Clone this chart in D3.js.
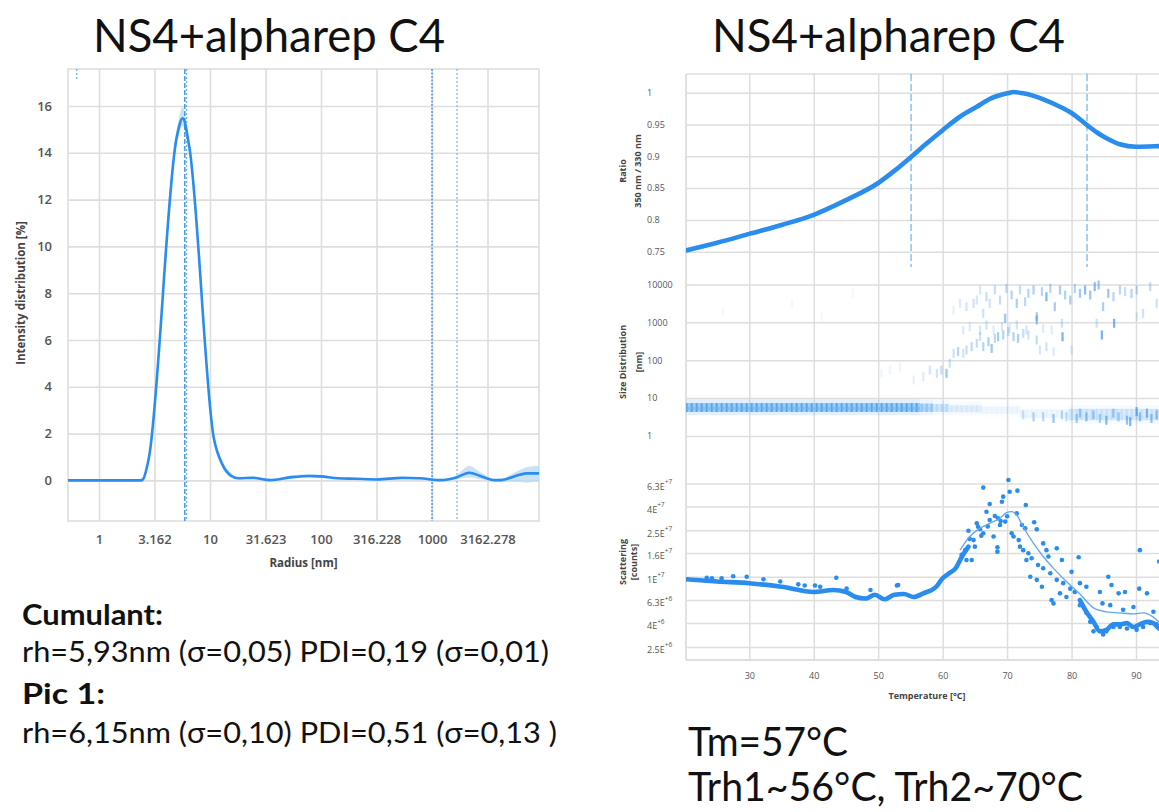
<!DOCTYPE html>
<html><head><meta charset="utf-8">
<script src="https://cdn.jsdelivr.net/npm/d3@7"></script>
<style>body{margin:0;background:#fff}svg{display:block}</style>
</head><body>
<svg id="c" width="1159" height="812"></svg>
<script>
// ================= DATA =================
const titleText = "NS4+alpharep C4";
// Left: DLS intensity distribution
const dlsRadius    = [0.5, 1, 2, 2.37, 2.49, 2.81, 5.01, 5.67, 6.52, 10.8, 12.9, 15.6, 18.0, 24.3, 35, 54.6, 78.9, 98.6, 142, 207, 320, 536, 780, 1210, 1630, 2165, 2720, 3660, 4230, 5650, 7110, 8700, 9300];
const dlsIntensity = [0, 0, 0, 0, 0.05, 0.95, 14.66, 15.47, 14.23, 1.83, 0.69, 0.19, 0.09, 0.11, 0.01, 0.14, 0.19, 0.17, 0.09, 0.07, 0.04, 0.11, 0.09, 0.01, 0.11, 0.33, 0.19, 0.01, 0.01, 0.19, 0.30, 0.30, 0.30];
const dlsBandHigh  = [0, 0, 0, 0, 0.08, 1.05, 15.0, 15.95, 14.45, 2.0, 0.85, 0.30, 0.14, 0.16, 0.06, 0.22, 0.26, 0.24, 0.14, 0.11, 0.08, 0.15, 0.13, 0.06, 0.20, 0.62, 0.36, 0.06, 0.08, 0.36, 0.56, 0.62, 0.62];
const dlsBandLow   = [0, 0, 0, 0, 0.02, 0.85, 14.3, 15.15, 14.0, 1.65, 0.55, 0.10, 0.04, 0.06, -0.03, 0.07, 0.12, 0.10, 0.04, 0.03, 0.0, 0.06, 0.04, -0.04, 0.04, 0.12, 0.05, -0.04, -0.05, -0.05, -0.10, -0.05, -0.05];
const dlsXTicks = [1, 3.162, 10, 31.623, 100, 316.228, 1000, 3162.278];
const dlsXTickLabels = ["1", "3.162", "10", "31.623", "100", "316.228", "1000", "3162.278"];
const dlsYTicks = [0, 2, 4, 6, 8, 10, 12, 14, 16];
const dlsMarkerRadii = [5.93, 6.15, 1000, 1680];
const dlsShortMarker = 0.63;
const dlsXTitle = "Radius [nm]";
const dlsYTitle = "Intensity distribution [%]";
const cumulantLines = ["Cumulant:", "rh=5,93nm (σ=0,05) PDI=0,19 (σ=0,01)", "Pic 1:", "rh=6,15nm (σ=0,10) PDI=0,51 (σ=0,13 )"];

// Right: ratio 350/330
const ratioT = [20.2, 25, 30, 35, 40, 45, 50, 52.5, 55.1, 57.5, 60, 62.5, 65.3, 67.5, 70, 71, 72.5, 74.1, 76, 78.2, 80, 82.4, 84, 85.5, 87.5, 90, 93.6, 96];
const ratioV = [0.752, 0.764, 0.778, 0.792, 0.808, 0.831, 0.858, 0.877, 0.899, 0.920, 0.941, 0.961, 0.978, 0.991, 0.999, 1.001, 0.999, 0.995, 0.988, 0.978, 0.968, 0.949, 0.937, 0.928, 0.919, 0.915, 0.916, 0.917];
const ratioTicks = [0.75, 0.8, 0.85, 0.9, 0.95, 1];
const ratioTickLabels = ["0.75", "0.8", "0.85", "0.9", "0.95", "1"];
const transitionT = [55.1, 82.4];

// Size distribution: monomer band segments
const monoT0   = [20.2, 56.5, 58.5, 61, 66, 72, 79.5];
const monoT1   = [56.5, 58.5, 61, 66, 72, 79.5, 96];
const monoLow  = [4.3, 4.3, 4.3, 4.2, 3.8, 3.0, 2.6];
const monoHigh = [7.4, 7.2, 7.0, 6.5, 6.0, 5.0, 5.2];
const monoLevel = [0.75, 0.5, 0.3, 0.18, 0.09, 0.1, 0.25];
// Size distribution: individual size readings [T, size nm, intensity]
const aggT = [25.9, 36.6, 41.2, 46.1,
  50.5, 51.8, 53.4, 55.5, 57.0, 58.0, 59.1, 59.8, 60.6, 61.1, 61.7, 62.4, 63.2, 63.7, 64.5, 65.3, 65.8, 66.3, 67.1, 67.6, 68.1, 68.6, 69.4, 70.2, 71.0, 71.7, 72.5, 73.3, 74.6, 75.1, 76.1, 77.2, 78.6, 80.0, 84.7, 86.6,
  61.7, 62.7, 63.7, 64.8, 65.3, 65.8, 66.3, 66.8, 67.3, 68.1, 68.9, 69.7, 69.9, 70.7, 71.5, 72.0, 72.8, 73.3, 74.1, 74.6, 75.4, 76.1, 76.7, 77.4, 78.2, 79.0, 79.8, 80.5, 81.3, 82.1, 82.9, 83.6, 84.2, 84.9, 85.7, 86.5, 87.5, 88.3, 89.3, 90.1, 91.1, 92.2, 93.2,
  63.2, 64.2, 65.8, 66.8, 67.9, 69.2, 70.4, 71.5, 73.0, 74.6, 75.6, 76.9, 78.5, 83.9, 90.1,
  72.5, 74.1, 75.6, 77.2, 78.5, 79.2, 80.8, 81.3, 82.3, 83.4, 84.4, 85.4, 86.5, 87.3, 88.6, 89.1, 90.1, 90.6, 91.7, 92.4, 93.2];
const aggSize = [1900, 3170, 1400, 5800,
  45, 55, 67, 30, 37, 55, 45, 55, 45, 83, 152, 168, 152, 186, 227, 279, 417, 227, 308, 205, 377, 417, 462, 567, 417, 377, 513, 462, 341, 186, 227, 168, 417, 186, 462, 942,
  2110, 3170, 2580, 3170, 3870, 7110, 1730, 4740, 3170, 7110, 3870, 1280, 7860, 5250, 3170, 7110, 3500, 5820, 7110, 1410, 6430, 4740, 7860, 2580, 7110, 5250, 3870, 7860, 5820, 7110, 5250, 8690, 9640, 2580, 5820, 4740, 7110, 6430, 5820, 7110, 1730, 8690, 3170,
  627, 766, 627, 850, 627, 766, 693, 850, 627, 1150, 693, 627, 942, 942, 1410,
  3.6, 3.2, 3.2, 2.9, 3.6, 3.2, 2.9, 4.0, 3.2, 3.6, 2.9, 2.6, 4.0, 3.2, 2.6, 2.4, 4.4, 3.2, 4.0, 2.9, 3.6];
const aggLevel = [0.08, 0.08, 0.08, 0.08,
  0.1, 0.1, 0.1, 0.15, 0.2, 0.25, 0.3, 0.35, 0.6, 0.3, 0.3, 0.45, 0.3, 0.35, 0.4, 0.35, 0.3, 0.45, 0.5, 0.6, 0.4, 0.55, 0.45, 0.35, 0.45, 0.5, 0.35, 0.3, 0.35, 0.25, 0.3, 0.2, 0.8, 0.2, 0.8, 0.8,
  0.15, 0.2, 0.25, 0.3, 0.25, 0.25, 0.3, 0.35, 0.3, 0.35, 0.35, 0.6, 0.4, 0.45, 0.5, 0.35, 0.4, 0.45, 0.5, 0.55, 0.45, 0.75, 0.45, 0.55, 0.5, 0.45, 0.5, 0.45, 0.55, 0.7, 0.6, 0.7, 0.6, 0.5, 0.6, 0.45, 0.4, 0.35, 0.45, 0.4, 0.3, 0.35, 0.3,
  0.2, 0.2, 0.25, 0.3, 0.2, 0.25, 0.2, 0.3, 0.25, 0.6, 0.2, 0.2, 0.3, 0.3, 0.2,
  0.3, 0.45, 0.4, 0.6, 0.4, 0.35, 0.5, 0.55, 0.6, 0.55, 0.45, 0.7, 0.55, 0.5, 0.6, 0.75, 0.8, 0.6, 0.7, 0.6, 0.6];
const sizeTicks = [1, 10, 100, 1000, 10000];

// Scattering (counts, in millions)
const scatBandAT = [20.2, 25, 30, 35, 40, 43, 45, 46.5, 48, 49.5, 51, 52.5, 54, 55.5, 57, 59, 60, 61, 62, 63, 64];
const scatBandAV = [9.5, 9.1, 8.8, 8.2, 7.4, 7.7, 7.4, 6.7, 6.5, 7.0, 6.4, 7.0, 7.1, 6.7, 7.2, 8.2, 9.7, 10.7, 11.8, 14.9, 18.1];
const scatBandBT = [81.3, 82.3, 83.4, 84.4, 85.4, 86.5, 87.5, 88.6, 89.6, 90.6, 91.7, 92.7, 93.6, 96];
const scatBandBV = [6.3, 5.0, 4.1, 3.4, 3.5, 3.9, 3.9, 4.0, 3.7, 3.9, 4.1, 4.0, 3.6, 3.6];
const scatSmoothT = [62.7, 64.2, 65.8, 67.3, 68.9, 69.9, 70.7, 71.5, 72.5, 74.1, 75.6, 77.2, 79.2, 81.3, 83.4, 85.4, 87.5, 89.6, 91.1, 92.7, 93.6, 96];
const scatSmoothV = [16.9, 22.1, 26.0, 28.7, 31.7, 35.4, 36.1, 33.8, 26.8, 19.3, 14.9, 11.8, 9.1, 7.1, 5.4, 5.0, 4.9, 4.8, 4.9, 4.5, 4.1, 4.0];
const scatDotT = [23.4, 24.2, 25.7, 27.5, 29.6, 32.2, 34.8, 37.6, 38.6, 40.2, 41.0, 43.5, 45.1, 48.8, 52.9, 53.1,
  66.3, 70.2, 69.4, 70.4, 71.6, 67.3, 69.2, 72.9, 66.8, 68.1, 68.6, 69.7, 71.5, 64.0, 65.3, 65.5, 65.8, 64.8, 66.3, 67.9, 68.5, 64.2, 72.3, 72.8, 74.2, 74.6, 75.6, 76.1, 77.7, 76.4, 78.5, 80.0, 81.1, 81.3, 82.3, 85.7, 86.2, 87.3, 88.3, 90.6, 90.5, 91.7, 84.4, 84.8, 86.0, 89.6, 88.0, 92.7, 93.6,
  68.5, 64.5, 62.95, 73.0, 73.6, 74.6, 75.4, 76.9, 77.2, 78.2, 79.2, 81.3, 82.3, 82.9, 83.4, 83.9, 84.9, 85.4, 86.5, 87.5, 88.6, 90.1, 91.1, 92.2, 93.2,
  67.3, 68.9, 70.7, 71.0, 71.8, 72.0, 72.5, 73.3, 73.8, 74.8, 75.6, 76.7, 77.7, 78.7, 79.8, 80.5, 63.5, 65.0, 63.7, 66.0, 67.0, 69.0, 70.0];
const scatDotV = [9.8, 9.7, 9.7, 10.1, 10.0, 9.5, 9.1, 8.6, 8.4, 8.4, 8.2, 9.8, 7.9, 7.7, 8.4, 8.5,
  58.1, 67.5, 48.6, 53.6, 54.7, 42.0, 44.0, 41.2, 36.1, 33.2, 31.7, 29.7, 34.9, 24.8, 28.7, 26.8, 25.5, 20.6, 23.6, 22.1, 17.9, 21.1, 27.8, 26.0, 29.3, 25.5, 19.3, 16.9, 17.5, 14.9, 13.9, 11.0, 14.7, 8.8, 8.2, 10.0, 8.5, 7.2, 7.4, 16.9, 7.9, 7.2, 7.4, 5.9, 5.7, 5.5, 5.2, 5.0, 13.5,
  16.4, 13.9, 15.4, 13.9, 10.0, 9.4, 8.2, 6.3, 5.9, 7.2, 6.7, 5.7, 4.9, 4.1, 3.4, 3.7, 3.2, 3.4, 3.7, 3.7, 3.6, 3.5, 3.7, 4.0, 3.9,
  30.6, 27.8, 23.6, 22.1, 20.6, 18.1, 16.9, 15.9, 14.4, 12.6, 11.8, 10.7, 9.4, 8.8, 7.9, 7.4, 16.9, 18.1, 13.9, 22.5, 27.0, 30.0, 33.0];
const scatTicks = [63, 40, 25, 16, 10, 6.3, 4, 2.5];
const scatTickMant = ["6.3E", "4E", "2.5E", "1.6E", "1E", "6.3E", "4E", "2.5E"];
const scatTickExp = ["+7", "+7", "+7", "+7", "+7", "+6", "+6", "+6"];
const tempTicks = [30, 40, 50, 60, 70, 80, 90];
const rightTitles = [["Ratio", "350 nm / 330 nm"], ["Size Distribution", "[nm]"], ["Scattering", "[counts]"]];
const tempTitle = "Temperature [°C]";
const tmLines = ["Tm=57°C", "Trh1~56°C, Trh2~70°C"];

// ================= DRAWING =================
const svg = d3.select("#c");
const BLUE = "#2a8cec";
const GRID = "#dedede";
const FONT = "'Open Sans','Noto Sans',sans-serif";
const BIG = "Lato,'Open Sans',sans-serif";
const defs = svg.append("defs");

function bigText(x, y, len, size, txt, weight) {
  svg.append("text").attr("x", x).attr("y", y).attr("font-family", BIG).attr("font-size", size)
    .attr("font-weight", weight || 400).attr("fill", "#111")
    .attr("textLength", len).attr("lengthAdjust", "spacingAndGlyphs").text(txt);
}
bigText(93, 52, 352, 46, titleText);
bigText(712, 52, 353, 46, titleText);

// ---------- Left chart ----------
const LB = {l: 68, r: 539, t: 69, b: 521};
const xL = d3.scaleLog().domain([1, 1000]).range([99, 432]);
const yL = d3.scaleLinear().domain([0, 16]).range([480.4, 106]);
const gL = svg.append("g");
gL.append("rect").attr("x", LB.l).attr("y", LB.t).attr("width", LB.r - LB.l).attr("height", LB.b - LB.t)
  .attr("fill", "none").attr("stroke", GRID).attr("stroke-width", 1.6);
const xaL = gL.append("g").attr("transform", `translate(0,${LB.b})`)
  .call(d3.axisBottom(xL).tickValues(dlsXTicks).tickSize(-(LB.b - LB.t)).tickPadding(14).tickFormat((d, i) => dlsXTickLabels[i]));
const yaL = gL.append("g").attr("transform", `translate(${LB.l},0)`)
  .call(d3.axisLeft(yL).tickValues(dlsYTicks).tickSize(-(LB.r - LB.l)).tickPadding(16).tickFormat(d3.format("d")));
[xaL, yaL].forEach(a => {
  a.select(".domain").remove();
  a.selectAll("line").attr("stroke", GRID).attr("stroke-width", 1.6);
  a.selectAll("text").attr("fill", "#555").attr("font-family", FONT).attr("font-size", 13).attr("font-weight", 600);
});
defs.append("clipPath").attr("id", "clipL").append("rect").attr("x", LB.l).attr("y", LB.t).attr("width", LB.r - LB.l).attr("height", LB.b - LB.t);
const plotL = gL.append("g").attr("clip-path", "url(#clipL)");
const dls = dlsRadius.map((r, i) => ({r, v: dlsIntensity[i], hi: dlsBandHigh[i], lo: dlsBandLow[i]}));
plotL.append("path").datum(dls).attr("fill", "#b5d8f8").attr("opacity", 0.75)
  .attr("d", d3.area().x(d => xL(d.r)).y0(d => yL(d.lo)).y1(d => yL(d.hi)).curve(d3.curveMonotoneX));
const mStyles = [{c: "#2a8cec", d: "5,2"}, {c: "#6fb2f2", d: "2,2"}, {c: "#3590ec", d: "2,1.5"}, {c: "#7dbaf4", d: "2,2"}];
dlsMarkerRadii.forEach((r, i) => {
  plotL.append("line").attr("x1", xL(r)).attr("x2", xL(r)).attr("y1", LB.t).attr("y2", LB.b)
    .attr("stroke", mStyles[i].c).attr("stroke-width", 1.3).attr("stroke-dasharray", mStyles[i].d);
});
plotL.append("line").attr("x1", xL(dlsShortMarker)).attr("x2", xL(dlsShortMarker)).attr("y1", LB.t).attr("y2", LB.t + 11)
  .attr("stroke", "#6fb2f2").attr("stroke-width", 1.3).attr("stroke-dasharray", "2,2");
plotL.append("path").datum(dls).attr("fill", "none").attr("stroke", BLUE).attr("stroke-width", 2.6)
  .attr("stroke-linejoin", "round").attr("d", d3.line().x(d => xL(d.r)).y(d => yL(d.v)).curve(d3.curveMonotoneX));
gL.append("text").attr("x", (LB.l + LB.r) / 2).attr("y", 567).attr("text-anchor", "middle").attr("font-family", FONT)
  .attr("font-size", 11.5).attr("font-weight", 700).attr("fill", "#444").text(dlsXTitle);
gL.append("text").attr("transform", `translate(25,${(LB.t + LB.b) / 2 - 2}) rotate(-90)`).attr("text-anchor", "middle")
  .attr("font-family", FONT).attr("font-size", 11.5).attr("font-weight", 700).attr("fill", "#444").text(dlsYTitle);

// cumulant text
const cumY = [625, 662, 704, 743];
const cumLen = [141, 527, 83, 535];
cumulantLines.forEach((t, i) => bigText(22, cumY[i], cumLen[i], 28, t, i % 2 === 0 ? 700 : 400));

// ---------- Right chart ----------
const RB = {l: 686, r: 1168, t: 74, b: 660};
const xR = d3.scaleLinear().domain([30, 90]).range([749.3, 1136]);
const yRatio = d3.scaleLinear().domain([0.75, 1]).range([251.7, 92.7]);
const ySize = d3.scaleLog().domain([1, 10000]).range([436, 284.4]);
const yScat = d3.scaleLog().domain([10, 63]).range([576.7, 483.5]);
const P = [{t: 74, b: 268}, {t: 276, b: 446}, {t: 454, b: 660}];
const gR = svg.append("g");
const xaR = gR.append("g").attr("transform", `translate(0,${RB.b})`)
  .call(d3.axisBottom(xR).tickValues(tempTicks).tickSize(-(RB.b - RB.t)).tickPadding(13).tickFormat(d3.format("d")));
function styleAxis(a) {
  a.select(".domain").remove();
  a.selectAll("line").attr("stroke", GRID).attr("stroke-width", 1.5);
  a.selectAll("text").attr("fill", "#555").attr("font-family", FONT).attr("font-size", 9);
}
styleAxis(xaR);
function hAxis(scale, ticks, fmt) {
  const a = gR.append("g").attr("transform", `translate(${RB.l},0)`)
    .call(d3.axisLeft(scale).tickValues(ticks).tickSize(-(RB.r - RB.l)).tickFormat(fmt));
  styleAxis(a);
  a.selectAll("text").attr("x", -39).attr("text-anchor", "start");
  return a;
}
hAxis(yRatio, ratioTicks, (d, i) => ratioTickLabels[i]);
hAxis(ySize, sizeTicks, d3.format("d"));
const sa = hAxis(yScat, scatTicks, () => "");
sa.selectAll("text").each(function (d, i) {
  const t = d3.select(this).attr("dy", "0.65em");
  t.append("tspan").text(scatTickMant[i]);
  t.append("tspan").attr("font-size", 6.5).attr("dy", "-0.9em").text(scatTickExp[i]);
});
gR.append("line").attr("x1", RB.l).attr("x2", RB.r).attr("y1", RB.t).attr("y2", RB.t).attr("stroke", GRID).attr("stroke-width", 1.5);
gR.append("line").attr("x1", RB.l).attr("x2", RB.l).attr("y1", RB.t).attr("y2", RB.b).attr("stroke", GRID).attr("stroke-width", 1.8);
gR.append("line").attr("x1", RB.l).attr("x2", RB.r).attr("y1", RB.b).attr("y2", RB.b).attr("stroke", GRID).attr("stroke-width", 1.8);
P.forEach((p, i) => defs.append("clipPath").attr("id", "clipR" + i).append("rect")
  .attr("x", RB.l).attr("y", p.t).attr("width", RB.r - RB.l).attr("height", p.b - p.t));

// Panel 1: ratio
const p1 = gR.append("g").attr("clip-path", "url(#clipR0)");
transitionT.forEach(t => p1.append("line").attr("x1", xR(t)).attr("x2", xR(t)).attr("y1", P[0].t).attr("y2", P[0].b - 1)
  .attr("stroke", "#6cb0f2").attr("stroke-width", 1.2).attr("stroke-dasharray", "7,3"));
const ratioData = ratioT.map((t, i) => ({t, v: ratioV[i]}));
p1.append("path").datum(ratioData).attr("fill", "none").attr("stroke", BLUE).attr("stroke-width", 4.6)
  .attr("stroke-linecap", "round").attr("d", d3.line().x(d => xR(d.t)).y(d => yRatio(d.v)).curve(d3.curveMonotoneX));

// Panel 2: size distribution
const pat = defs.append("pattern").attr("id", "tex").attr("patternUnits", "userSpaceOnUse").attr("width", 5).attr("height", 8);
pat.append("rect").attr("width", 5).attr("height", 8).attr("fill", "#62acf2");
pat.append("rect").attr("x", 1).attr("width", 1.5).attr("height", 8).attr("fill", "#2a8cec");
pat.append("rect").attr("x", 3.5).attr("y", 2).attr("width", 1).attr("height", 5).attr("fill", "#a4d0f8");
const p2 = gR.append("g").attr("clip-path", "url(#clipR1)");
monoT0.forEach((t0, i) => {
  const x0 = xR(t0), x1 = xR(monoT1[i]);
  p2.append("rect").attr("x", x0).attr("width", x1 - x0).attr("y", ySize(monoHigh[i] * 1.25)).attr("height", ySize(monoLow[i] * 0.82) - ySize(monoHigh[i] * 1.25))
    .attr("fill", "#7fbaf4").attr("opacity", monoLevel[i] * 0.3);
  p2.append("rect").attr("x", x0).attr("width", x1 - x0).attr("y", ySize(monoHigh[i])).attr("height", ySize(monoLow[i]) - ySize(monoHigh[i]))
    .attr("fill", "url(#tex)").attr("opacity", monoLevel[i]);
});
aggT.forEach((t, i) => {
  p2.append("rect").attr("x", xR(t) - 1.1).attr("width", 2.2).attr("y", ySize(aggSize[i]) - 4.5).attr("height", 9)
    .attr("fill", "#3590ee").attr("opacity", aggLevel[i] * 0.85);
});

// Panel 3: scattering
const p3 = gR.append("g").attr("clip-path", "url(#clipR2)");
const lineS = d3.line().x(d => xR(d.t)).y(d => yScat(d.v)).curve(d3.curveMonotoneX);
p3.append("path").datum(scatBandAT.map((t, i) => ({t, v: scatBandAV[i]}))).attr("fill", "none").attr("stroke", BLUE)
  .attr("stroke-width", 4.6).attr("stroke-linecap", "round").attr("d", lineS);
p3.append("path").datum(scatBandBT.map((t, i) => ({t, v: scatBandBV[i]}))).attr("fill", "none").attr("stroke", BLUE)
  .attr("stroke-width", 4.6).attr("stroke-linecap", "round").attr("d", lineS);
p3.selectAll("circle").data(scatDotT.map((t, i) => ({t, v: scatDotV[i]}))).join("circle")
  .attr("cx", d => xR(d.t)).attr("cy", d => yScat(d.v)).attr("r", 2.3).attr("fill", BLUE);
p3.append("path").datum(scatSmoothT.map((t, i) => ({t, v: scatSmoothV[i]}))).attr("fill", "none").attr("stroke", "#5fa8ef")
  .attr("stroke-width", 1.3).attr("d", lineS);

const titleX = [[626, 641], [626, 642], [626, 637]];
const titleY = [171, 362, 562];
rightTitles.forEach((lines, i) => {
  lines.forEach((s, j) => gR.append("text").attr("transform", `translate(${titleX[i][j]},${titleY[i]}) rotate(-90)`)
    .attr("text-anchor", "middle").attr("font-family", FONT).attr("font-size", 9).attr("font-weight", 700).attr("fill", "#444").text(s));
});
gR.append("text").attr("x", 927).attr("y", 699).attr("text-anchor", "middle").attr("font-family", FONT)
  .attr("font-size", 9).attr("font-weight", 700).attr("fill", "#444").text(tempTitle);

const tmY = [756, 801];
const tmLen = [160, 395];
tmLines.forEach((t, i) => bigText(688, tmY[i], tmLen[i], 40, t));
</script>
</body></html>
